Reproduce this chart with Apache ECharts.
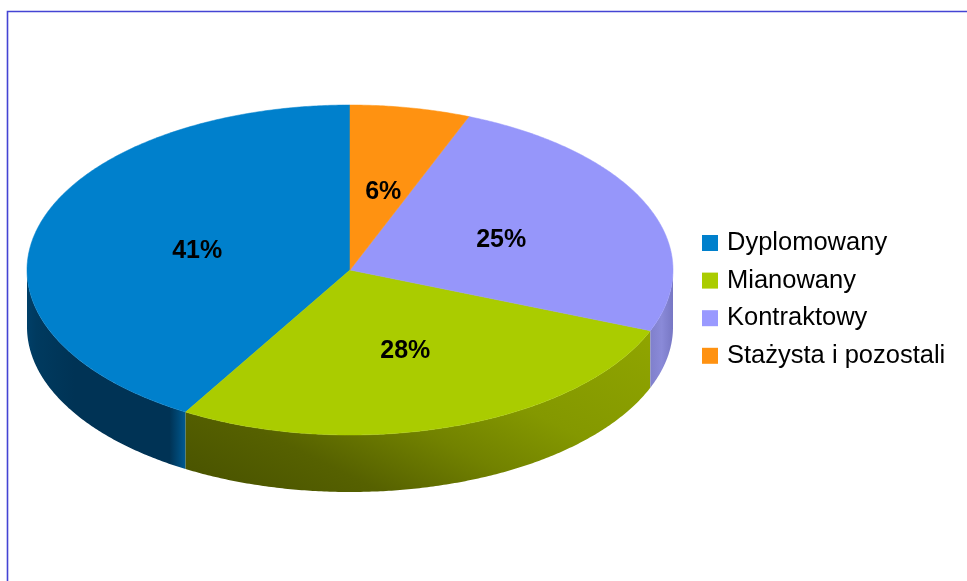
<!DOCTYPE html>
<html>
<head>
<meta charset="utf-8">
<title>Pie</title>
<script src="https://cdn.jsdelivr.net/npm/echarts@6/dist/echarts.min.js"></script>
<style>
  html, body { margin: 0; padding: 0; background: #fff; overflow: hidden; }
  #main { width: 967px; height: 581px; }
</style>
</head>
<body>
<div id="main"></div>
<script>
// dane
var categories = ['Dyplomowany', 'Mianowany', 'Kontraktowy', 'Stażysta i pozostali'];
var values = [41.5, 27.5, 25, 6];
var percentLabels = ['41%', '28%', '25%', '6%'];

var colors = ['#0080cc', '#aacc00', '#9999ff', '#ff9211'];
var topColors = ['#0080cc', '#aacc00', '#9696fa', '#ff9211'];
// gradienty boku "plastra"
var wallStops = [
  [[0, '#003f68'], [0.06, '#003a5f'], [0.3, '#003355'], [0.9, '#003355'], [0.96, '#004a78'], [1, '#005a92']],
  [[0, '#4b5500'], [0.2, '#566100'], [0.42, '#728200'], [0.62, '#849800'], [1, '#90a500']],
  [[0, '#8080cc'], [0.5, '#8a8ad8'], [1, '#7777c4']],
  [[0, '#cc7400'], [1, '#cc7400']]
];

var cx = 350, cy = 270, rx = 323, ry = 165, depth = 57;

var total = values.reduce(function (a, b) { return a + b; }, 0);

// kat liczony od gory, przeciwnie do wskazowek zegara
function pt(deg, r, dy) {
  var a = deg * Math.PI / 180;
  return [cx - rx * r * Math.sin(a), cy - ry * r * Math.cos(a) + (dy || 0)];
}

function arcPts(from, to, dy) {
  var pts = [];
  var n = Math.max(2, Math.ceil((to - from) * 2));
  for (var i = 0; i <= n; i++) {
    pts.push(pt(from + (to - from) * i / n, 1, dy));
  }
  return pts;
}

function sliceItem(idx) {
  return function (params, api) {
    var before = 0;
    for (var i = 0; i < idx; i++) before += values[i];
    var start = before / total * 360;
    var end = (before + api.value(0)) / total * 360;
    var children = [];

    // bok widoczny tylko dla dolnej polowy elipsy
    var wFrom = Math.max(start, 90);
    var wTo = Math.min(end, 270);
    if (wTo > wFrom) {
      var topEdge = arcPts(wFrom, wTo, 0);
      var bottomEdge = arcPts(wFrom, wTo, depth).reverse();
      var stops = wallStops[idx].map(function (s) {
        return { offset: s[0], color: s[1] };
      });
      // zielony ma cien po skosie, reszta poziomo
      var grad = idx === 1
        ? new echarts.graphic.LinearGradient(186, 468, 333, 173, stops, true)
        : new echarts.graphic.LinearGradient(0, 0, 1, 0, stops);
      children.push({
        type: 'polygon',
        shape: { points: topEdge.concat(bottomEdge) },
        style: { fill: grad }
      });
    }

    // wierzch
    var top = [[cx, cy]].concat(arcPts(start, end, 0));
    children.push({
      type: 'polygon',
      shape: { points: top },
      style: { fill: topColors[idx], stroke: topColors[idx], lineWidth: 0.5 }
    });

    var labelPos = pt((start + end) / 2, 0.5, 3);
    children.push({
      type: 'text',
      x: labelPos[0] + 3,
      y: labelPos[1],
      style: {
        text: percentLabels[idx],
        fill: '#000',
        font: 'bold 25px "Liberation Sans", Arial, sans-serif',
        align: 'center',
        verticalAlign: 'middle'
      }
    });
    return { type: 'group', children: children };
  };
}

var chart = echarts.init(document.getElementById('main'), null, { renderer: 'canvas' });

var seriesList = categories.map(function (name, i) {
  return {
    name: name,
    type: 'custom',
    coordinateSystem: 'none',
    silent: true,
    animation: false,
    itemStyle: { color: colors[i] },
    renderItem: sliceItem(i),
    data: [[values[i]]]
  };
});

chart.setOption({
  animation: false,
  backgroundColor: '#fff',
  graphic: [{
    type: 'polyline',
    shape: { points: [[7.5, 581], [7.5, 11.5], [967, 11.5]] },
    style: { stroke: '#4444d4', lineWidth: 1.6, fill: null }
  }],
  legend: {
    orient: 'vertical',
    left: 697,
    top: 225,
    icon: 'rect',
    itemWidth: 16,
    itemHeight: 16,
    itemGap: 11.6,
    selectedMode: false,
    data: categories,
    textStyle: {
      color: '#000',
      fontFamily: '"Liberation Sans", Arial, sans-serif',
      fontSize: 25.5,
      padding: [0, 0, 0, 4]
    }
  },
  series: seriesList
});
</script>
</body>
</html>
